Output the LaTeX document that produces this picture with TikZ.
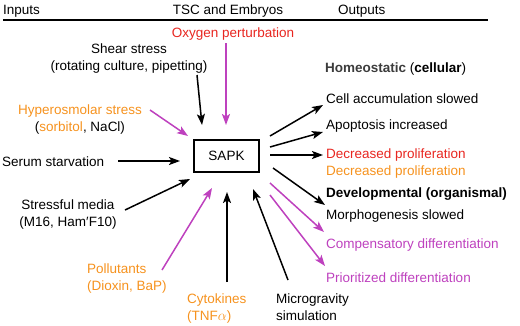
\documentclass[tikz,border=0pt]{standalone}
\usepackage{fontspec}
\setmainfont{Liberation Sans}
\usetikzlibrary{arrows.meta}
\definecolor{cred}{RGB}{232,38,32}
\definecolor{corange}{RGB}{246,146,30}
\definecolor{cmag}{RGB}{190,65,190}
\definecolor{cgray}{RGB}{60,60,60}
\begin{document}
\begin{tikzpicture}[x=1pt,y=-1pt,
  font=\fontsize{13.5}{16.5}\selectfont,
  txt/.style={inner sep=0pt, anchor=base west},
  ctxt/.style={inner sep=0pt, anchor=base},
  arr/.style={line width=1.5pt, -{Stealth[length=11pt,width=8pt,inset=2.5pt]}},
  marr/.style={arr, draw=cmag, fill=cmag},
  sbox/.style={draw, line width=2.5pt, minimum width=65pt, minimum height=32pt, inner sep=0pt}]
\useasboundingbox (0,0) rectangle (520,325);
% header
\node[txt] (inputs) at (3,14) {Inputs};
\node[ctxt] (tsc) at (228,14) {TSC and Embryos};
\node[txt] (outputs) at (338,14) {Outputs};
\coordinate (ruleL) at (3,20);
\coordinate (ruleR) at (488,20);
\draw[line width=1.5pt] (ruleL) -- (ruleR);
% central box
\node[sbox] (sapk) at (226.5,156) {SAPK};
% inputs (multi-line nodes: base = baseline of last line)
\node[ctxt, text=cred] (oxy) at (233,37) {Oxygen perturbation};
\node[ctxt, align=center] (shear) at (129,70) {Shear stress\\(rotating culture, pipetting)};
\node[ctxt, align=center, text=corange] (hyper) at (80,131) {Hyperosmolar stress\\\textcolor{black}{(}sorbitol\textcolor{black}{, NaCl)}};
\node[txt] (serum) at (2,166) {Serum starvation};
\node[ctxt, align=center] (media) at (68,226) {Stressful media\\(M16, Ham′F10)};
\node[txt, align=left, text=corange] (poll) at (87,290) {Pollutants\\(Dioxin, BaP)};
\node[txt, align=left, text=corange] (cyto) at (187,320) {Cytokines\\(TNF$\alpha$)};
\node[txt, align=left] (micro) at (276,320) {Microgravity\\simulation};
% outputs
\node[txt] (homeo) at (325,72) {\textbf{\textcolor{cgray}{Homeostatic}} (\textbf{cellular})};
\node[txt] (cell) at (326,103) {Cell accumulation slowed};
\node[txt] (apop) at (326,129) {Apoptosis increased};
\node[txt, text=cred] (dp1) at (326,158) {Decreased proliferation};
\node[txt, text=corange] (dp2) at (326,175) {Decreased proliferation};
\node[txt] (devel) at (326,197) {\textbf{Developmental (organismal)}};
\node[txt] (morph) at (326,219) {Morphogenesis slowed};
\node[txt, text=cmag] (comp) at (326,248) {Compensatory differentiation};
\node[txt, text=cmag] (prio) at (326,282) {Prioritized differentiation};
% connector ends
\coordinate (oxyS) at (226,43);   \coordinate (oxyE) at (226,125);
\coordinate (shS) at (197,75);    \coordinate (shE) at (202,125);
\coordinate (hyS) at (150,110);   \coordinate (hyE) at (188,136);
\coordinate (seS) at (118,161);   \coordinate (seE) at (180,161);
\coordinate (meS) at (125,210);   \coordinate (meE) at (190,179);
\coordinate (poS) at (162,270);   \coordinate (poE) at (212,188);
\coordinate (cyS) at (227,282);   \coordinate (cyE) at (227,192);
\coordinate (miS) at (288,280);   \coordinate (miE) at (253,189);
\coordinate (o1S) at (270,136);   \coordinate (o1E) at (323,105);
\coordinate (o2S) at (270,147);   \coordinate (o2E) at (323,132);
\coordinate (o3S) at (270,155);   \coordinate (o3E) at (323,155);
\coordinate (o4S) at (273,168);   \coordinate (o4E) at (325,205);
\coordinate (o5S) at (270,183);   \coordinate (o5E) at (324,232);
\coordinate (o6S) at (270,195);   \coordinate (o6E) at (325,266);
% input arrows
\draw[marr] (oxyS) -- (oxyE);
\draw[arr] (shS) -- (shE);
\draw[marr] (hyS) -- (hyE);
\draw[arr] (seS) -- (seE);
\draw[arr] (meS) -- (meE);
\draw[marr] (poS) -- (poE);
\draw[arr] (cyS) -- (cyE);
\draw[arr] (miS) -- (miE);
% output arrows
\draw[arr] (o1S) -- (o1E);
\draw[arr] (o2S) -- (o2E);
\draw[arr] (o3S) -- (o3E);
\draw[arr] (o4S) -- (o4E);
\draw[marr] (o5S) -- (o5E);
\draw[marr] (o6S) -- (o6E);
\end{tikzpicture}
\end{document}
